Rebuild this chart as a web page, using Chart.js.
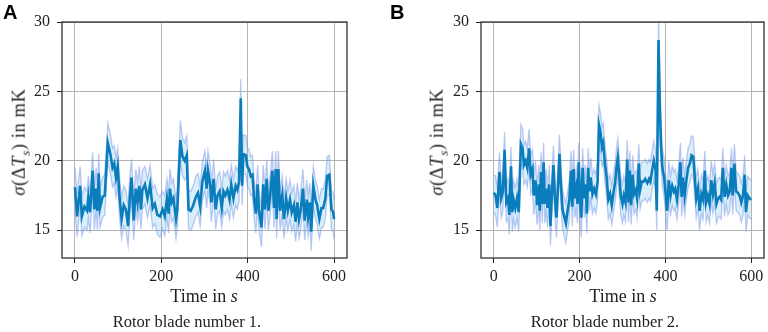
<!DOCTYPE html>
<html>
<head>
<meta charset="utf-8">
<script src="https://cdn.jsdelivr.net/npm/chart.js@4/dist/chart.umd.min.js"></script>
<style>
  body { margin: 0; background: #fff; }
  #wrap { position: relative; width: 768px; height: 332px; overflow: hidden; font-family: "Liberation Serif", serif; color: #222; }
  canvas { position: absolute; top: 0; }
  .lbl { position: absolute; white-space: nowrap; transform: translate(-50%, -50%); }
  .ylbl { transform: translate(-50%, -50%) rotate(-90deg); font-size: 18.5px; letter-spacing: 0.6px; }
  .xlbl { font-size: 18px; }
  .cap { font-size: 16.5px; }
  .letter { position: absolute; font-family: "Liberation Sans", Arial, sans-serif; font-weight: bold; font-size: 20px; color: #000; }
</style>
</head>
<body>
<div id="wrap">
  <canvas id="chartA" width="384" height="332" style="left:0"></canvas>
  <canvas id="chartB" width="384" height="332" style="left:384px"></canvas>

  <div class="letter" style="left:3px; top:1px">A</div>
  <div class="letter" style="left:390px; top:1px">B</div>

  <div class="lbl ylbl" style="left:21px; top:142px"><i>σ</i>(Δ<i>T</i><sub style="font-size:13px"><i>s</i></sub>) in mK</div>
  <div class="lbl ylbl" style="left:439px; top:142px"><i>σ</i>(Δ<i>T</i><sub style="font-size:13px"><i>s</i></sub>) in mK</div>

  <div class="lbl xlbl" style="left:204px; top:296px">Time in <i>s</i></div>
  <div class="lbl xlbl" style="left:623px; top:296px">Time in <i>s</i></div>

  <div class="lbl cap" style="left:187px; top:322px">Rotor blade number 1.</div>
  <div class="lbl cap" style="left:605px; top:322px">Rotor blade number 2.</div>
</div>
<script>
// tick positions
const xTicks = [0, 200, 400, 600];
const yTicks = [15, 20, 25, 30];

// blade 1
const timeA = [0,5,12,16,22,28,31,35,41,45,
  49,52,55,58,64,69,76,82,87,91,
  95,99,103,108,113,118,123,128,131,136,
  141,145,149,153,156,162,168,174,180,185,
  191,197,203,208,213,217,220,224,228,234,
  237,244,249,254,259,263,268,274,280,285,
  290,295,301,305,308,313,316,321,326,330,
  335,340,344,348,353,358,362,367,372,376,
  380,384,387,390,396,399,403,407,411,415,
  419,423,426,432,436,440,444,448,452,457,
  461,465,467,471,475,480,484,489,493,498,
  502,507,511,515,519,523,528,532,537,540,
  544,547,552,557,561,566,571,575,580,584,
  589,594,598,600];
const meanA = [18.1,16.0,18.2,16.0,16.7,16.4,17.4,16.3,19.3,16.5,
  18.0,16.4,19.1,16.6,17.4,17.5,21.3,20.5,19.5,19.8,
  18.8,19.6,17.5,15.8,16.8,16.5,15.3,17.8,18.8,15.7,
  18.0,17.0,18.2,16.5,17.9,18.3,17.3,18.3,16.6,16.9,
  16.1,16.0,16.5,16.0,17.3,16.2,18.0,17.0,17.3,15.8,
  16.5,21.5,20.3,20.0,20.4,16.5,16.4,16.8,17.4,17.7,
  16.7,18.5,19.3,18.0,19.3,18.3,17.0,18.7,16.5,17.5,
  17.8,16.6,17.8,17.5,17.9,17.2,18.3,17.3,18.2,17.9,
  18.5,24.5,18.2,20.5,20.4,19.6,19.4,18.9,19.0,17.2,
  16.2,18.3,16.5,15.2,18.3,16.5,18.7,16.4,17.5,19.3,
  16.6,19.4,15.8,19.4,16.4,17.5,15.8,17.3,16.4,17.2,
  16.3,16.8,15.6,17.0,15.8,16.5,18.0,15.7,17.2,16.0,
  17.0,14.9,18.2,17.2,16.8,15.8,16.6,16.6,17.3,18.9,
  19.0,16.5,16.3,15.8];
const upperA = [19.5,17.6,19.6,17.4,18.1,17.8,18.9,17.7,20.6,17.9,
  19.5,17.9,20.5,18.0,18.8,19.0,22.7,21.9,20.9,21.1,
  20.2,20.9,18.9,17.3,18.2,17.9,16.8,19.2,20.1,17.2,
  19.4,18.4,19.6,17.9,19.3,19.6,18.7,19.7,18.0,18.3,
  17.6,17.4,17.8,17.5,18.7,17.6,19.4,18.4,18.7,17.2,
  18.0,22.9,21.7,21.3,21.8,17.9,17.8,18.2,18.9,19.1,
  18.1,19.9,20.7,19.4,20.7,19.7,18.4,20.1,17.9,18.9,
  19.2,18.0,19.2,18.9,19.3,18.6,19.7,18.7,19.6,19.3,
  19.9,25.9,19.7,21.9,21.8,21.0,20.8,20.3,20.4,18.6,
  17.6,19.7,17.9,16.6,19.7,17.9,20.1,17.8,18.9,20.7,
  18.0,20.7,17.2,20.7,17.8,18.9,17.2,18.7,17.8,18.6,
  17.7,18.2,17.0,18.4,17.2,17.9,19.4,17.1,18.6,17.4,
  18.4,16.3,19.6,18.6,18.2,17.2,18.0,18.0,18.7,20.3,
  20.4,17.9,17.7,17.2];
const lowerA = [16.5,14.5,16.8,14.6,15.2,15.0,15.9,14.8,17.9,15.0,
  16.6,15.0,17.7,15.2,15.9,16.1,19.9,19.1,18.1,18.4,
  17.4,18.2,16.0,14.4,15.3,15.0,13.9,16.4,17.3,14.3,
  16.6,15.6,16.7,15.1,16.5,16.9,15.9,16.8,15.2,15.5,
  14.7,14.5,15.1,14.6,15.9,14.8,16.6,15.6,15.9,14.4,
  15.1,20.1,18.9,18.6,19.0,15.1,15.0,15.4,16.0,16.3,
  15.3,17.1,17.9,16.6,17.9,16.9,15.6,17.3,15.1,16.1,
  16.4,15.2,16.4,16.1,16.5,15.8,16.9,15.9,16.8,16.5,
  17.1,23.1,16.8,19.1,19.0,18.2,18.0,17.5,17.6,15.8,
  14.8,16.9,15.1,13.8,16.9,15.1,17.3,15.0,16.1,17.9,
  15.2,18.0,14.4,18.0,15.0,16.1,14.4,15.9,15.0,15.8,
  14.9,15.4,14.2,15.6,14.4,15.1,16.6,14.3,15.8,14.6,
  15.6,13.5,16.8,15.8,15.4,14.4,15.2,15.2,15.9,17.5,
  17.6,15.1,14.9,14.4];

// blade 2
const timeB = [0,4,8,13,17,21,25,29,33,36,
  40,43,46,50,54,58,63,67,70,74,
  78,82,86,90,93,97,101,105,107,110,
  113,116,119,122,125,129,132,135,139,142,
  146,149,153,156,160,164,168,172,176,180,
  183,186,189,192,195,198,201,204,207,211,
  214,217,220,223,226,230,234,238,242,245,
  249,252,255,259,263,267,271,275,279,283,
  286,289,293,296,300,303,307,311,314,317,
  320,324,327,331,334,338,341,345,349,353,
  358,362,365,369,373,377,380,384,387,390,
  393,397,401,404,408,412,416,420,423,427,
  431,435,438,441,445,449,453,457,461,465,
  468,472,476,480,484,488,492,495,499,503,
  507,511,515,519,523,526,530,534,538,542,
  546,550,554,557,561,565,569,573,577,581,
  585,588,592,596,600];
const meanB = [17.7,17.5,16.6,19.2,17.3,17.8,20.8,17.0,17.3,16.1,
  19.6,16.3,17.2,16.6,17.3,16.3,21.2,20.9,19.7,20.0,
  19.5,20.9,19.0,19.4,17.5,18.6,16.8,18.3,16.4,19.2,
  16.9,19.9,16.9,18.0,16.6,18.3,15.3,17.5,19.7,17.5,
  15.9,17.8,20.5,18.5,16.5,16.0,15.5,16.4,17.2,19.3,
  16.7,19.4,17.3,18.0,16.9,19.9,17.2,15.9,19.5,17.3,
  18.3,16.2,19.5,17.8,18.8,17.6,18.0,17.6,18.5,22.6,
  22.0,21.0,21.3,19.8,18.8,17.2,17.6,16.8,17.7,18.5,
  19.5,20.2,18.7,17.5,16.9,17.5,17.0,20.1,17.0,19.3,
  16.8,19.0,17.6,17.9,17.3,19.8,17.9,18.5,18.5,18.7,
  18.4,18.7,18.5,19.3,20.0,19.4,16.4,28.7,24.0,21.0,
  19.5,18.8,17.5,16.4,18.6,17.5,18.2,17.8,18.0,17.2,
  18.3,19.9,17.4,18.8,17.5,18.6,19.5,19.8,20.4,20.3,
  19.0,17.3,18.0,16.4,17.6,17.2,19.3,17.0,17.5,16.9,
  18.6,17.6,18.4,16.9,17.3,17.4,17.2,19.5,17.4,18.3,
  17.5,17.8,19.5,17.5,19.8,17.8,17.7,17.5,17.0,17.5,
  19.0,16.3,17.5,17.3,17.2];
const upperB = [19.0,18.9,18.0,20.6,18.7,19.2,22.1,18.4,18.7,17.5,
  21.0,17.7,18.6,18.0,18.7,17.7,22.6,22.3,21.1,21.4,
  20.9,22.3,20.4,20.8,18.9,20.0,18.2,19.7,17.8,20.6,
  18.3,21.3,18.3,19.4,18.0,19.7,16.7,18.9,21.1,18.9,
  17.3,19.2,21.9,19.9,17.9,17.4,16.9,17.8,18.6,20.7,
  18.1,20.8,18.7,19.4,18.3,21.3,18.6,17.3,20.9,18.7,
  19.7,17.6,20.9,19.2,20.2,19.0,19.4,19.0,19.9,24.0,
  23.4,22.4,22.7,21.2,20.2,18.6,19.0,18.2,19.1,19.9,
  20.9,21.6,20.1,18.9,18.3,18.9,18.4,21.5,18.4,20.7,
  18.2,20.4,19.0,19.3,18.7,21.2,19.3,19.9,19.9,20.1,
  19.8,20.1,19.9,20.7,21.4,20.8,17.8,30.5,25.4,22.4,
  20.9,20.2,18.9,17.8,20.0,18.9,19.6,19.2,19.4,18.6,
  19.7,21.3,18.8,20.2,18.9,20.0,20.9,21.2,21.8,21.7,
  20.4,18.7,19.4,17.8,19.0,18.6,20.7,18.4,18.9,18.3,
  20.0,19.0,19.8,18.3,18.7,18.8,18.6,20.9,18.8,19.7,
  18.9,19.2,20.9,18.9,21.2,19.2,19.1,18.9,18.4,18.9,
  20.4,17.7,18.9,18.7,18.6];
const lowerB = [16.3,16.1,15.2,17.8,15.9,16.4,19.4,15.6,15.9,14.7,
  18.2,14.9,15.8,15.2,15.9,14.9,19.8,19.5,18.3,18.6,
  18.1,19.5,17.6,18.0,16.1,17.2,15.4,16.9,15.0,17.8,
  15.5,18.5,15.5,16.6,15.2,16.9,13.9,16.1,18.3,16.1,
  14.5,16.4,19.1,17.1,15.1,14.6,14.1,15.0,15.8,17.9,
  15.3,18.0,15.9,16.6,15.5,18.5,15.8,14.5,18.1,15.9,
  16.9,14.8,18.1,16.4,17.4,16.2,16.6,16.2,17.1,21.2,
  20.6,19.6,19.9,18.4,17.4,15.8,16.2,15.4,16.3,17.1,
  18.1,18.8,17.3,16.1,15.5,16.1,15.6,18.7,15.6,17.9,
  15.4,17.6,16.2,16.5,15.9,18.4,16.5,17.1,17.1,17.3,
  17.0,17.3,17.1,17.9,18.6,18.0,15.0,26.9,22.6,19.6,
  18.1,17.4,16.1,15.0,17.2,16.1,16.8,16.4,16.6,15.8,
  16.9,18.5,16.0,17.4,16.1,17.2,18.1,18.4,19.0,18.9,
  17.6,15.9,16.6,15.0,16.2,15.8,17.9,15.6,16.1,15.5,
  17.2,16.2,17.0,15.5,15.9,16.0,15.8,18.1,16.0,16.9,
  16.1,16.4,18.1,16.1,18.4,16.4,16.3,16.1,15.6,16.1,
  17.6,14.9,16.1,15.9,15.8];

const tickFont = { family: "'Liberation Serif', serif", size: 16 };

// draws all four spines round the plot area
const frame = {
  id: "frame",
  afterDatasetsDraw(chart) {
    const a = chart.chartArea;
    const ctx = chart.ctx;
    ctx.save();
    ctx.strokeStyle = "#222";
    ctx.lineWidth = 1.2;
    ctx.strokeRect(a.left, a.top, a.right - a.left, a.bottom - a.top);
    ctx.restore();
  },
};

function pts(t, v) {
  return t.map((x, i) => ({ x: x, y: v[i] }));
}

function makeChart(id, t, mean, upper, lower, yWidth, padRight) {
  return new Chart(document.getElementById(id), {
    type: "line",
    data: {
      datasets: [
        {
          data: pts(t, mean),
          borderColor: "#0a7dbd",
          borderWidth: 2.6,
          pointRadius: 0,
          tension: 0,
          fill: false,
        },
        {
          data: pts(t, upper),
          borderColor: "rgba(110,140,230,0.45)",
          borderWidth: 1.3,
          backgroundColor: "rgba(60,170,225,0.2)",
          pointRadius: 0,
          tension: 0,
          fill: "+1",
        },
        {
          data: pts(t, lower),
          borderColor: "rgba(110,140,230,0.45)",
          borderWidth: 1.3,
          pointRadius: 0,
          tension: 0,
          fill: false,
        },
      ],
    },
    options: {
      responsive: false,
      animation: false,
      devicePixelRatio: 1,
      layout: { padding: { left: 0, top: 22, right: padRight, bottom: 0 } },
      plugins: { legend: { display: false }, tooltip: { enabled: false } },
      scales: {
        x: {
          type: "linear",
          min: -30,
          max: 630,
          afterBuildTicks: (s) => { s.ticks = xTicks.map((v) => ({ value: v })); },
          afterFit: (s) => { s.height = 74; },
          grid: { color: "#b4b4b4", lineWidth: 1, tickColor: "#222", tickLength: 5 },
          border: { display: false },
          ticks: { font: tickFont, color: "#222", padding: 4, maxRotation: 0 },
        },
        y: {
          min: 13,
          max: 30,
          afterBuildTicks: (s) => { s.ticks = yTicks.map((v) => ({ value: v })); },
          afterFit: (s) => { s.width = yWidth; },
          grid: { color: "#b4b4b4", lineWidth: 1, tickColor: "#222", tickLength: 5 },
          border: { display: false },
          ticks: { font: tickFont, color: "#222", padding: 7 },
        },
      },
    },
    plugins: [frame],
  });
}

makeChart("chartA", timeA, meanA, upperA, lowerA, 62, 37);
makeChart("chartB", timeB, meanB, upperB, lowerB, 97, 4);
</script>
</body>
</html>
